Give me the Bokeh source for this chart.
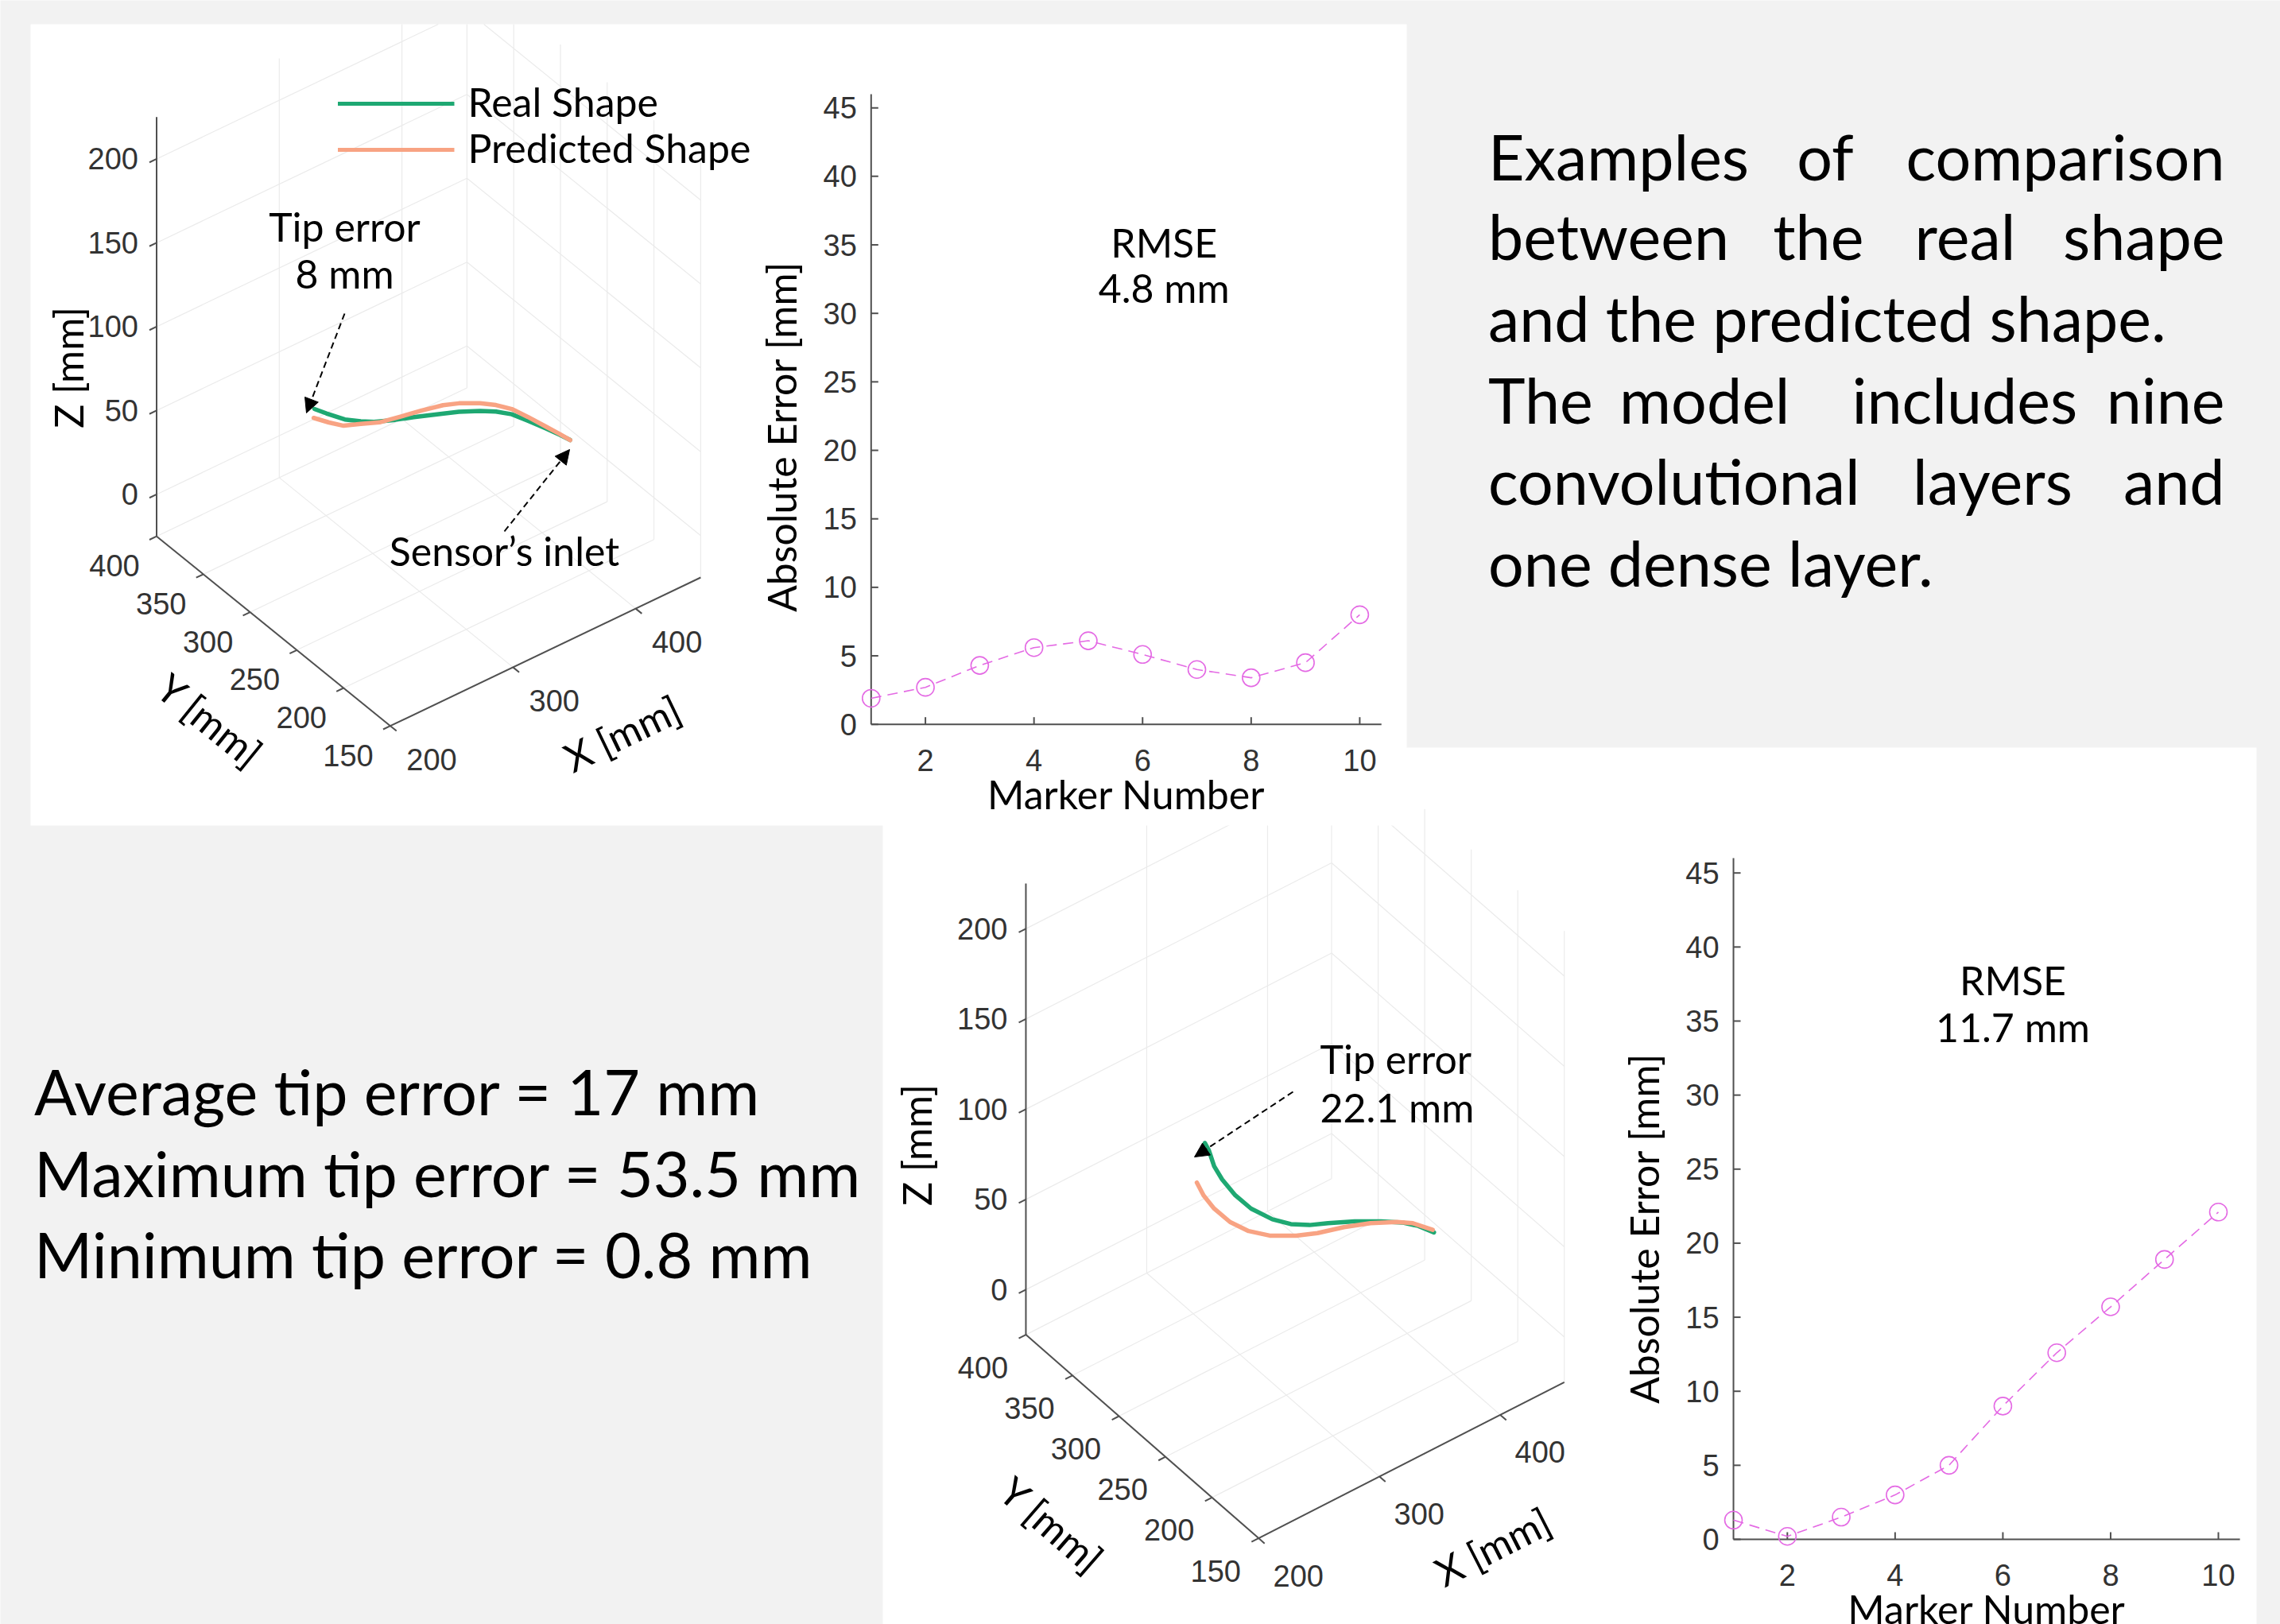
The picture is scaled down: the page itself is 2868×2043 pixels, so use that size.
import numpy as np
from bokeh.plotting import figure
from bokeh.models import Range1d, Arrow, NormalHead
from bokeh.core.properties import value
from bokeh.embed import file_html
from bokeh.resources import INLINE

# ------------------------------------------------------------------ data
MARKER_NUMBER = [1, 2, 3, 4, 5, 6, 7, 8, 9, 10]
ABS_ERROR_A = [1.9, 2.7, 4.3, 5.6, 6.1, 5.1, 4.0, 3.4, 4.5, 8.0]
ABS_ERROR_B = [1.3, 0.2, 1.5, 3.0, 5.0, 9.0, 12.6, 15.7, 18.9, 22.1]
ERR_Y_TICKS = [0, 5, 10, 15, 20, 25, 30, 35, 40, 45]
ERR_X_TICKS = [2, 4, 6, 8, 10]
ERR_X_LIM = (1, 10.4)
ERR_Y_LIM = (0, 46)

X_TICKS_3D = [200, 300, 400]
Y_TICKS_3D = [150, 200, 250, 300, 350, 400]
Z_TICKS_3D = [0, 50, 100, 150, 200]
X_LIM_3D = (200, 453)
Y_LIM_3D = (150, 400)
Z_LIM_3D = (-25, 225)

# example A (tip error 8 mm)
REAL_A_X = [231.1, 240.8, 255.9, 268.9, 279.7, 297.0, 312.1, 333.7, 348.9, 366.1, 379.1, 392.0, 405.0, 420.2, 430.9, 439.6]
REAL_A_Y = [272, 272, 272, 272, 272, 272, 272, 272, 272, 272, 272, 272, 272, 272, 272, 272]
REAL_A_Z = [97.9, 91.9, 83.0, 77.4, 73.2, 68.4, 64.7, 59.1, 55.1, 49.5, 44.6, 38.5, 30.1, 20.1, 12.7, 6.5]
PRED_A_X = [230.5, 243.0, 254.9, 268.9, 284.1, 301.3, 318.6, 335.9, 348.9, 366.1, 379.1, 392.0, 405.0, 420.2, 430.9, 439.6]
PRED_A_Y = [272, 272, 272, 272, 272, 272, 272, 272, 272, 272, 272, 272, 272, 272, 272, 272]
PRED_A_Z = [92.8, 85.7, 79.6, 75.8, 71.4, 68.8, 66.4, 63.5, 60.1, 54.1, 48.5, 41.6, 32.4, 21.1, 13.2, 6.5]
# example B (tip error 22.1 mm)
REAL_B_X = [249.5, 252.8, 257.2, 263.8, 274.7, 287.8, 305.4, 320.7, 336.1, 351.4, 373.4, 395.3, 412.8, 426.0, 439.1]
REAL_B_Y = [272, 272, 272, 272, 272, 272, 272, 272, 272, 272, 272, 272, 272, 272, 272]
REAL_B_Z = [122.1, 116.9, 106.6, 97.0, 84.5, 72.6, 60.7, 52.8, 47.0, 42.8, 36.3, 28.8, 22.2, 15.8, 7.7]
PRED_B_X = [242.9, 248.4, 257.2, 270.3, 285.7, 303.2, 325.1, 342.7, 364.6, 386.5, 408.5, 421.6, 438.1]
PRED_B_Y = [272, 272, 272, 272, 272, 272, 272, 272, 272, 272, 272, 272, 272]
PRED_B_Z = [102.4, 93.4, 83.1, 71.2, 60.9, 52.4, 44.9, 40.3, 36.1, 30.8, 24.0, 18.8, 9.5]

STATS_LINES = ["Average tip error = 17 mm", "Maximum tip error = 53.5 mm", "Minimum tip error = 0.8 mm"]
PARAGRAPH = [
    [("Examples", "left"), ("of", "center"), ("comparison", "right")],
    [("between", "left"), ("the", "center"), ("real", "center"), ("shape", "right")],
    [("and the predicted shape.", "left")],
    [("The", "left"), ("model", "center"), ("includes", "center"), ("nine", "right")],
    [("convolutional", "left"), ("layers", "center"), ("and", "right")],
    [("one dense layer.", "left")],
]

# ------------------------------------------------------------------ layout / style
W, H = 2868, 2043
X0, Y0 = 0, 0
BG = "#f2f2f2"
CAL = "Lato"
TICK_FONT = "Liberation Sans"
GREEN = "#1ea872"
SALMON = "#f8a383"
MAGENTA = "#e46ae4"
AXIS_C = "#505050"
TICK_C = "#333333"
GRID_C = "#ebebeb"

BIG = 79
MID = 50
TICK_SIZE = 38
BASELINE_FIX = 0.37  # em shift that puts the alphabetic baseline where asked

PARA_BASE = [225, 325.4, 428, 530.8, 633.5, 736]
PARA_X = [
    [1871.5, 2295.5, 2798],
    [1871.5, 2286.8, 2471.5, 2798],
    [1871.5],
    [1871.5, 2143.8, 2470.8, 2798],
    [1871.5, 2506, 2798],
    [1871.5],
]
STATS_X = 42.5
STATS_BASE = [1401.7, 1504, 1606]

VIEW_A = dict(F=(490.5, 912.7), ex=(1.543, -0.738), ey=(-1.176, -0.954), ez=-2.11,
              top=30, xoff=(52, 42), yoff=(-53, 37))
VIEW_B = dict(F=(1582.7, 1934.6), ex=(1.520, -0.776), ey=(-1.171, -1.024), ez=-2.27,
              top=940, xoff=(50, 47), yoff=(-54, 41))

p = figure(width=W, height=H, x_range=Range1d(X0, X0 + W), y_range=Range1d(Y0 + H, Y0),
           x_axis_type=None, y_axis_type=None, output_backend="svg", toolbar_location=None,
           min_border=0, background_fill_color=BG, border_fill_color=BG,
           outline_line_color=None)


def put(xs, ys, texts, size, font=CAL, align="left", baseline="alphabetic", angle=0.0,
        color="black", y_offset=0, **kw):
    if baseline == "alphabetic":
        y_offset = y_offset - BASELINE_FIX * size
    p.text(x=list(xs), y=list(ys), text=list(texts), text_font=value(font),
           text_font_size=value(f"{size}px"), text_align=align, text_baseline=baseline,
           angle=angle, text_color=color, y_offset=y_offset, **kw)


def project(view, xs, ys, zs):
    a = np.asarray(xs, float) - X_LIM_3D[0]
    b = np.asarray(ys, float) - Y_LIM_3D[0]
    c = np.asarray(zs, float) - Z_LIM_3D[0]
    fx, fy = view["F"]
    sx = fx + a * view["ex"][0] + b * view["ey"][0]
    sy = fy + a * view["ex"][1] + b * view["ey"][1] + c * view["ez"]
    return sx, sy


def clip_top(xa, ya, xb, yb, top):
    if ya < top and yb < top:
        return None
    if ya < top:
        t = (top - ya) / (yb - ya)
        xa, ya = xa + t * (xb - xa), top
    elif yb < top:
        t = (top - yb) / (ya - yb)
        xb, yb = xb + t * (xa - xb), top
    return [xa, xb], [ya, yb]


def draw_grid3d(view):
    (x0, x1), (y0, y1), (z0, z1) = X_LIM_3D, Y_LIM_3D, Z_LIM_3D
    segs = []
    for xt in X_TICKS_3D:
        segs.append(((xt, y0, z0), (xt, y1, z0)))
        segs.append(((xt, y1, z0), (xt, y1, z1)))
    for yt in Y_TICKS_3D:
        segs.append(((x0, yt, z0), (x1, yt, z0)))
        segs.append(((x1, yt, z0), (x1, yt, z1)))
    for zt in Z_TICKS_3D:
        segs.append(((x0, y1, zt), (x1, y1, zt)))
        segs.append(((x1, y0, zt), (x1, y1, zt)))
    xs, ys = [], []
    for a, b in segs:
        sx, sy = project(view, [a[0], b[0]], [a[1], b[1]], [a[2], b[2]])
        c = clip_top(sx[0], sy[0], sx[1], sy[1], view["top"])
        if c:
            xs.append(c[0])
            ys.append(c[1])
    p.multi_line(xs, ys, line_color=GRID_C, line_width=1.2)


def draw_axes3d(view):
    (x0, x1), (y0, y1), (z0, z1) = X_LIM_3D, Y_LIM_3D, Z_LIM_3D
    lines = [((x0, y1, z0), (x0, y1, z1)), ((x0, y0, z0), (x0, y1, z0)), ((x0, y0, z0), (x1, y0, z0))]
    xs, ys = [], []
    for a, b in lines:
        sx, sy = project(view, [a[0], b[0]], [a[1], b[1]], [a[2], b[2]])
        xs.append(list(sx))
        ys.append(list(sy))
    ex = np.array(view["ex"]); ex = ex / np.hypot(*ex)
    ey = np.array(view["ey"]); ey = ey / np.hypot(*ey)
    tl = 10
    # x ticks
    sx, sy = project(view, X_TICKS_3D, [y0] * len(X_TICKS_3D), [z0] * len(X_TICKS_3D))
    for a, b in zip(sx, sy):
        xs.append([a, a - ey[0] * tl]); ys.append([b, b - ey[1] * tl])
    put(sx + view["xoff"][0], sy + view["xoff"][1], [str(t) for t in X_TICKS_3D], TICK_SIZE,
        font=TICK_FONT, align="center", baseline="middle", color=TICK_C)
    # y ticks
    sx, sy = project(view, [x0] * len(Y_TICKS_3D), Y_TICKS_3D, [z0] * len(Y_TICKS_3D))
    for a, b in zip(sx, sy):
        xs.append([a, a - ex[0] * tl]); ys.append([b, b - ex[1] * tl])
    put(sx + view["yoff"][0], sy + view["yoff"][1], [str(t) for t in Y_TICKS_3D], TICK_SIZE,
        font=TICK_FONT, align="center", baseline="middle", color=TICK_C)
    # z ticks
    sx, sy = project(view, [x0] * len(Z_TICKS_3D), [y1] * len(Z_TICKS_3D), Z_TICKS_3D)
    for a, b in zip(sx, sy):
        xs.append([a, a - ex[0] * tl]); ys.append([b, b - ex[1] * tl])
    put(sx - 23, sy, [str(t) for t in Z_TICKS_3D], TICK_SIZE,
        font=TICK_FONT, align="right", baseline="middle", color=TICK_C)
    p.multi_line(xs, ys, line_color=AXIS_C, line_width=2)


def draw_curves(view, rx, ry, rz, px, py, pz):
    sx, sy = project(view, rx, ry, rz)
    p.line(sx, sy, line_color=GREEN, line_width=5.5, line_cap="round", line_join="round")
    sx, sy = project(view, px, py, pz)
    p.line(sx, sy, line_color=SALMON, line_width=5.5, line_cap="round", line_join="round")


def lin_range(v0, s0, v1, s1, smin, smax):
    k = (v1 - v0) / (s1 - s0)
    return Range1d(v0 + (smin - s0) * k, v0 + (smax - s0) * k)


def error_panel(name, err, xa, ya):
    xr, yr = name + "x", name + "y"
    p.extra_x_ranges[xr] = lin_range(*xa, X0, X0 + W)
    p.extra_y_ranges[yr] = lin_range(*ya, Y0 + H, Y0)
    kx = abs(xa[3] - xa[1]) / abs(xa[2] - xa[0])
    ky = abs(ya[3] - ya[1]) / abs(ya[2] - ya[0])
    kw = dict(x_range_name=xr, y_range_name=yr)
    xlo, xhi = ERR_X_LIM
    ylo, yhi = ERR_Y_LIM
    p.segment(x0=[xlo, xlo], y0=[ylo, ylo], x1=[xhi, xlo], y1=[ylo, yhi],
              line_color=AXIS_C, line_width=2, **kw)
    p.segment(x0=ERR_X_TICKS, y0=[ylo] * 5, x1=ERR_X_TICKS, y1=[ylo + 9 / ky] * 5,
              line_color=AXIS_C, line_width=2, **kw)
    p.segment(x0=[xlo] * 10, y0=ERR_Y_TICKS, x1=[xlo + 9 / kx] * 10, y1=ERR_Y_TICKS,
              line_color=AXIS_C, line_width=2, **kw)
    put([xlo] * 10, ERR_Y_TICKS, [str(t) for t in ERR_Y_TICKS], TICK_SIZE, font=TICK_FONT,
        align="right", baseline="middle", color=TICK_C, x_offset=-18, **kw)
    put(ERR_X_TICKS, [ylo] * 5, [str(t) for t in ERR_X_TICKS], TICK_SIZE, font=TICK_FONT,
        align="center", baseline="middle", color=TICK_C, y_offset=45, **kw)
    put([(xlo + xhi) / 2], [ylo], ["Marker Number"], MID, align="center", y_offset=106, **kw)
    put([xlo], [21], ["Absolute Error [mm]"], MID, align="center", baseline="middle",
        angle=np.pi / 2, x_offset=-113, **kw)
    p.line(MARKER_NUMBER, err, line_color=MAGENTA, line_width=1.6, line_dash="13 8", **kw)
    p.scatter(MARKER_NUMBER, err, marker="circle", size=22, fill_color=None,
              line_color=MAGENTA, line_width=1.6, **kw)


def arrow(xs, ys, xe, ye):
    p.add_layout(Arrow(end=NormalHead(size=18, fill_color="black", line_color="black"),
                       x_start=xs, y_start=ys, x_end=xe, y_end=ye,
                       line_color="black", line_width=2, line_dash="8 5"))


# ------------------------------------------------------------------ panels
p.quad(left=[1110], right=[2838], top=[940], bottom=[2100], fill_color="white", line_color=None)
draw_grid3d(VIEW_B)
p.quad(left=[38], right=[1769], top=[30], bottom=[1038], fill_color="white", line_color=None)
draw_grid3d(VIEW_A)

# ------------------------------------------------------------------ 3D example A
draw_axes3d(VIEW_A)
draw_curves(VIEW_A, REAL_A_X, REAL_A_Y, REAL_A_Z, PRED_A_X, PRED_A_Y, PRED_A_Z)
put([85.8], [461.8], ["Z [mm]"], MID, align="center", baseline="middle", angle=np.pi / 2)
put([264], [906], ["Y [mm]"], MID, align="center", baseline="middle", angle=-np.radians(39))
put([782], [922], ["X [mm]"], MID, align="center", baseline="middle", angle=np.radians(25.6))
put([433, 433], [302.7, 362], ["Tip error", "8 mm"], MID, align="center")
arrow(433, 394, 385, 519)
put([634], [711], ["Sensor\u2019s inlet"], MID, align="center")
arrow(634, 668, 716, 565)
# legend
p.segment(x0=[424.5, 424.5], y0=[130, 188], x1=[571, 571], y1=[130, 188],
          line_color=[GREEN, SALMON], line_width=5)
put([588, 588], [146, 204], ["Real Shape", "Predicted Shape"], MID)

# ------------------------------------------------------------------ error plot A
error_panel("a", ABS_ERROR_A, (1, 1095.3, 10, 1709.9), (0, 910.7, 45, 135.2))
put([1463.7, 1463.7], [323.3, 380], ["RMSE", "4.8 mm"], MID, align="center")

# ------------------------------------------------------------------ 3D example B
draw_axes3d(VIEW_B)
draw_curves(VIEW_B, REAL_B_X, REAL_B_Y, REAL_B_Z, PRED_B_X, PRED_B_Y, PRED_B_Z)
put([1152.2], [1440], ["Z [mm]"], MID, align="center", baseline="middle", angle=np.pi / 2)
put([1323], [1918], ["Y [mm]"], MID, align="center", baseline="middle", angle=-np.radians(41))
put([1877], [1945], ["X [mm]"], MID, align="center", baseline="middle", angle=np.radians(27))
put([1660, 1660], [1350.3, 1410.6], ["Tip error", "22.1 mm"], MID)
arrow(1626, 1373, 1502, 1455)

# ------------------------------------------------------------------ error plot B
error_panel("b", ABS_ERROR_B, (2, 2247.8, 10, 2790), (0, 1936, 45, 1097.7))
put([2531.5, 2531.5], [1250.7, 1310.3], ["RMSE", "11.7 mm"], MID, align="center")

# ------------------------------------------------------------------ texts
for base, words, xs in zip(PARA_BASE, PARAGRAPH, PARA_X):
    for (w, al), x in zip(words, xs):
        put([x], [base], [w], BIG, align=al)
put([STATS_X] * 3, STATS_BASE, STATS_LINES, BIG)

html = file_html(p, INLINE)
html = html.replace("<body>", '<body style="background:%s">' % BG, 1)
open("out.html", "w").write(html)
